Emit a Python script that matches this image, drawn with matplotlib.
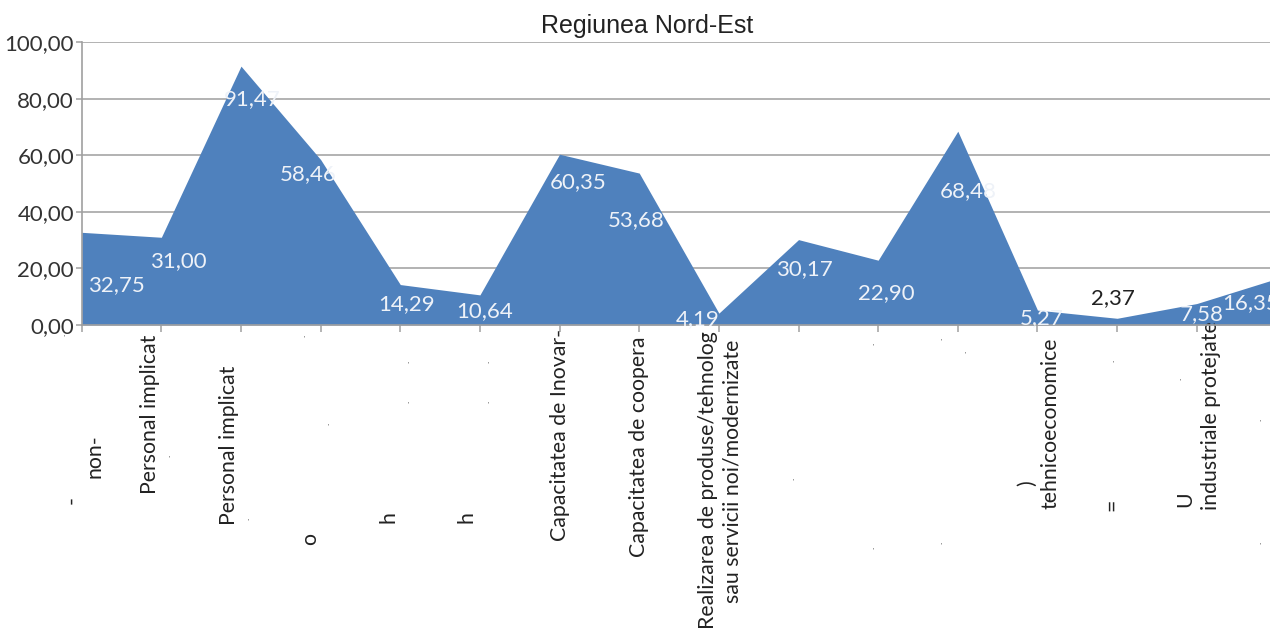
import matplotlib
matplotlib.use('Agg')
import matplotlib.pyplot as plt

# values (16 indicators, Regiunea Nord-Est)
values = [32.75, 31.00, 91.47, 58.46, 14.29, 10.64, 60.35, 53.68,
          4.19, 30.17, 22.90, 68.48, 5.27, 2.37, 7.58, 16.35]
y_ticks = [0, 20, 40, 60, 80, 100]
title = 'Regiunea Nord-Est'

# what is left visible of each category label (the original text is cut/garbled)
# (category index, text, dx px, dy px below axis)
label_bits = [
    (0, '.', -19, 10), (0, '-', -10, 175), (0, 'non-', 13, 131),
    (1, 'Personal implicat', -11, 89), (1, '.', 7, 131),
    (2, 'Personal implicat', -12, 120), (2, '.', 6, 194),
    (3, '.', -18, 11), (3, '.', 6, 99), (3, 'o', -11, 214),
    (4, '.', 7, 37), (4, '.', 7, 77), (4, 'h', -12, 192),
    (5, '.', 7, 37), (5, '.', 7, 77), (5, 'h', -13, 192),
    (6, 'Capacitatea de Inovar-', 0, 110),
    (7, 'Capacitatea de coopera', 0, 122),
    (8, 'Realizarea de produse/tehnolog', -11, 155),
    (8, 'sau servicii noi/modernizate', 14, 146),
    (9, '.', -7, 154),
    (10, '.', -6, 19), (10, '.', -6, 223),
    (11, '.', -18, 14), (11, '.', 6, 27), (11, '.', -18, 218),
    (12, ')', -10, 158), (12, 'tehnicoeconomice', 13, 98),
    (13, '.', -5, 36), (13, '=', -5, 180),
    (14, '.', -18, 54), (14, 'U', -12, 174), (14, 'industriale protejate', 14, 91),
    (15, '.', -17, 95), (15, '.', -17, 218),
]

# data label offsets from each point (px right, px down)
label_offsets = [(35, 53), (17, 24), (11, 33), (-12, 15), (6, 20), (5, 16),
                 (19, 28), (-3, 47), (-21, 6), (6, 29), (8, 33), (10, 60),
                 (4, 8), (-4, -20), (5, 11), (-26, 24)]

plt.rcParams['font.family'] = ['Lato', 'DejaVu Sans']

fig = plt.figure(figsize=(12.70, 6.29), dpi=100)
ax = fig.add_axes([81.7 / 1270, 1 - 325 / 629, 1194.7 / 1270, 283 / 629])

x = list(range(len(values)))
ax.fill_between(x, values, 0, color='#4f81bd', linewidth=0, zorder=2)

ax.set_xlim(0, len(values) - 1)
ax.set_ylim(0, 100)
ax.set_yticks(y_ticks)
ax.set_yticklabels([f'{t:.2f}'.replace('.', ',') for t in y_ticks],
                   fontsize=16, color='#333333')
ax.set_xticks(x)
ax.set_xticklabels([])
ax.grid(axis='y', color='#a6a6a6', linewidth=1.2, zorder=1)
ax.set_axisbelow(True)
ax.tick_params(axis='y', direction='out', length=4.5, width=1.1, color='#a0a0a0', pad=1)
ax.tick_params(axis='x', direction='out', length=5, width=1.1, color='#a0a0a0')
for s in ['top', 'right']:
    ax.spines[s].set_visible(False)
for s in ['left', 'bottom']:
    ax.spines[s].set_color('#a0a0a0')
    ax.spines[s].set_linewidth(1.2)
    ax.spines[s].set_zorder(3)

# value labels
for i, v in enumerate(values):
    dx, dy = label_offsets[i]
    col = '#222222' if i == 13 else '#eef2f8'
    ax.annotate(f'{v:.2f}'.replace('.', ','), xy=(i, v), xytext=(dx, -dy),
                textcoords='offset pixels', ha='center', va='center',
                fontsize=16, color=col, zorder=4, annotation_clip=False)

# category labels (rotated fragments)
for i, txt, dx, dy in label_bits:
    ax.annotate(txt, xy=(i, 0), xytext=(dx, -dy), textcoords='offset pixels',
                ha='center', va='center', rotation=90,
                fontsize=15.3 if txt != '.' else 7, color='#222222',
                annotation_clip=False)

fig.text(647 / 1270, 1 - 33 / 629, title, ha='center', va='baseline',
         fontsize=18, color='#222222',
         family=['Liberation Sans', 'DejaVu Sans'])

fig.savefig('out.png', dpi=100)
